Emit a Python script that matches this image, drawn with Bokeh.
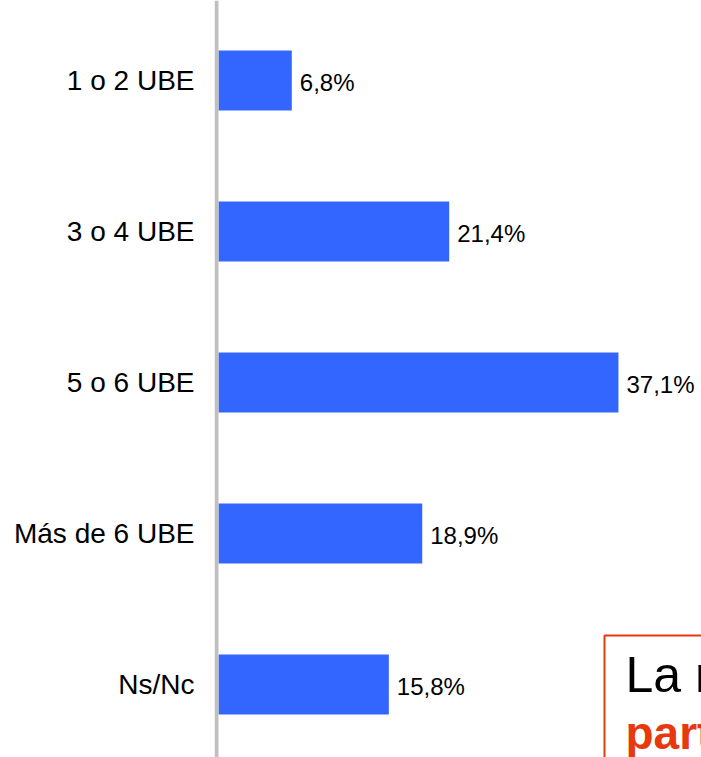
from bokeh.plotting import figure
from bokeh.models import Range1d, FixedTicker, Span, Label
from bokeh.core.properties import value
from bokeh.embed import file_html
from bokeh.resources import INLINE

# ---- data ----
categories = ["1 o 2 UBE", "3 o 4 UBE", "5 o 6 UBE", "Más de 6 UBE", "Ns/Nc"]
values = [6.8, 21.4, 37.1, 18.9, 15.8]
value_labels = [f"{v:.1f}".replace(".", ",") + "%" for v in values]
note_line1 = "La mayoría"
note_line2 = "parte"

# ---- layout constants ----
W, H = 701, 757
LEFT = 214
ZERO = 218          # x pixel of 0 %
PX = 10.78          # pixels per percentage point
UNIT = 151.0        # pixels per category
FIRST = 80.0        # first category centre from top of frame
FONT = "Liberation Sans"

ypos = list(range(len(categories)))

p = figure(width=W, height=H, output_backend="svg", toolbar_location=None,
           x_range=Range1d((LEFT - ZERO) / PX, (W - ZERO) / PX),
           y_range=Range1d((H - FIRST) / UNIT, -FIRST / UNIT),
           min_border_left=LEFT, min_border_right=0, min_border_top=0, min_border_bottom=0)

p.outline_line_color = None
p.grid.visible = False
p.xaxis.visible = False
p.background_fill_color = "white"
p.border_fill_color = "white"

ax = p.yaxis[0]
ax.ticker = FixedTicker(ticks=ypos)
ax.major_label_overrides = {i: c for i, c in zip(ypos, categories)}
ax.axis_line_color = None
ax.major_tick_line_color = None
ax.minor_tick_line_color = None
ax.major_label_standoff = 14
ax.major_label_text_font = FONT
ax.major_label_text_font_size = "28px"
ax.major_label_text_color = "black"

# vertical grey axis line
p.add_layout(Span(location=-2 / PX, dimension="height", line_color="#C0C0C0", line_width=4))

# bars
p.hbar(y=ypos, left=0, right=values, height=60 / UNIT, fill_color="#3366FF", line_color=None)

# value labels
p.text(x=values, y=ypos, text=value_labels, x_offset=8, y_offset=2,
       text_baseline="middle", text_align="left",
       text_font=value(FONT), text_font_size="24px", text_color="black")

# note box (partially visible, as in the original slide)
box_left = (604 - ZERO) / PX
box_top = (635 - FIRST) / UNIT
p.quad(left=box_left, right=(W - ZERO + 40) / PX, top=box_top, bottom=(H + 40 - FIRST) / UNIT,
       fill_color=None, line_color="#E8380D", line_width=2)

p.add_layout(Label(x=(625 - ZERO) / PX, y=(674 - FIRST) / UNIT, text=note_line1,
                   text_font=FONT, text_font_size="50px", text_color="black",
                   text_baseline="alphabetic", text_align="left"))
p.add_layout(Label(x=(625 - ZERO) / PX, y=(732 - FIRST) / UNIT, text=note_line2,
                   text_font=FONT, text_font_size="46px", text_font_style="bold",
                   text_color="#E8380D", text_baseline="alphabetic", text_align="left"))

open("out.html", "w").write(file_html(p, INLINE))
